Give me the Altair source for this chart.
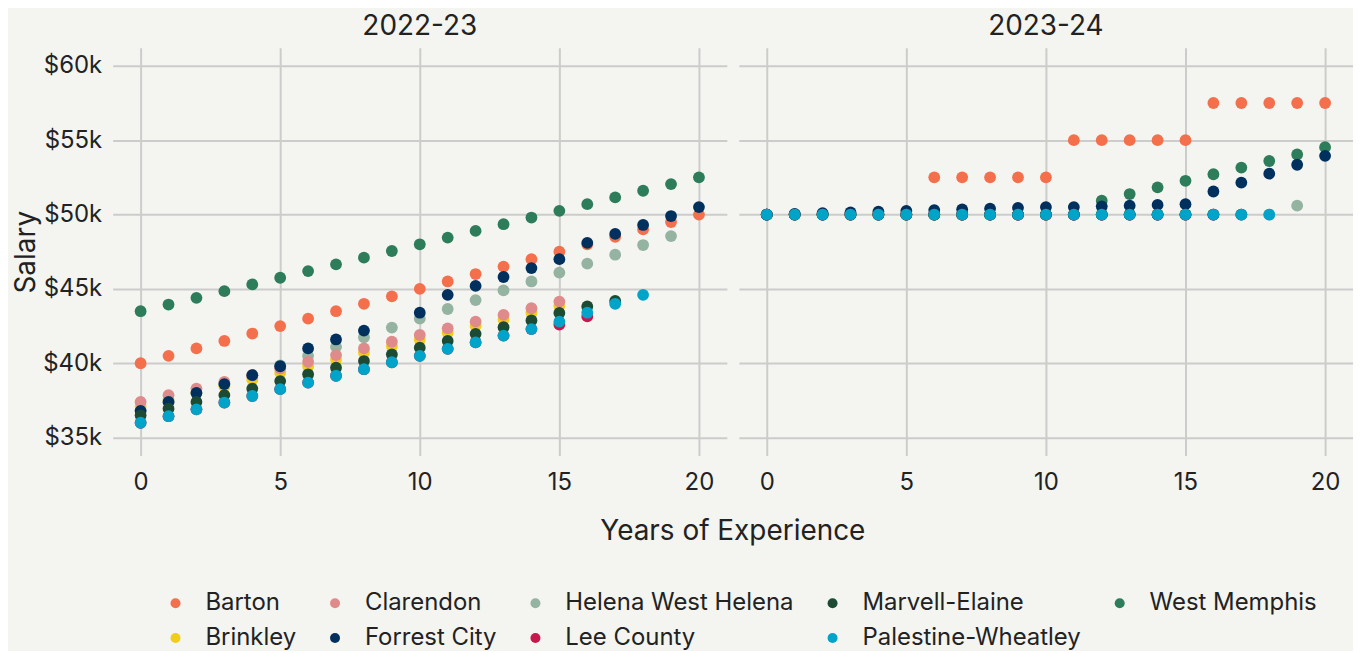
import altair as alt
import pandas as pd

years = list(range(21))

# Salaries in $k, index = years of experience (None = no value)
barton_2223 = [40.0, 40.5, 41.0, 41.5, 42.0, 42.5, 43.0, 43.5, 44.0, 44.5, 45.0, 45.5, 46.0, 46.5, 47.0, 47.5, 48.0, 48.5, 49.0, 49.5, 50.0]
brinkley_2223 = [37.1, 37.55, 38.0, 38.45, 38.9, 39.35, 39.8, 40.25, 40.7, 41.15, 41.6, 42.05, 42.5, 42.95, 43.4, 43.85]
clarendon_2223 = [37.4, 37.85, 38.3, 38.75, 39.2, 39.65, 40.1, 40.55, 41.0, 41.45, 41.9, 42.35, 42.8, 43.25, 43.7, 44.15]
forrest_2223 = [36.8, 37.4, 38.0, 38.6, 39.2, 39.8, 41.0, 41.6, 42.2, None, 43.4, 44.6, 45.2, 45.8, 46.4, 47.0, 48.1, 48.7, 49.3, 49.9, 50.5]
helena_2223 = [36.8, 37.4, 38.0, 38.6, 39.2, 39.85, 40.5, 41.1, 41.75, 42.4, 43.0, 43.65, 44.25, 44.9, 45.5, 46.1, 46.7, 47.3, 47.95, 48.55]
lee_2223 = [36.0, 36.44, 36.9, 37.36, 37.8, 38.26, 38.7, 39.16, 39.6, 40.07, 40.5, 40.97, 41.4, 41.86, 42.3, 42.6, 43.15]
marvell_2223 = [36.5, 36.95, 37.4, 37.86, 38.3, 38.8, 39.26, 39.7, 40.15, 40.6, 41.05, 41.5, 41.98, 42.43, 42.88, 43.38, 43.82, 44.2]
palestine_2223 = [36.0, 36.44, 36.9, 37.36, 37.8, 38.26, 38.7, 39.16, 39.6, 40.07, 40.5, 40.97, 41.4, 41.86, 42.3, 42.8, 43.4, 44.0, 44.6]
westmemphis_2223 = [43.5, 43.95, 44.4, 44.85, 45.3, 45.75, 46.2, 46.65, 47.1, 47.55, 48.0, 48.45, 48.9, 49.35, 49.8, 50.25, 50.7, 51.15, 51.6, 52.05, 52.5]

barton_2324 = [50.0, 50.0, 50.0, 50.0, 50.0, 50.0, 52.5, 52.5, 52.5, 52.5, 52.5, 55.0, 55.0, 55.0, 55.0, 55.0, 57.5, 57.5, 57.5, 57.5, 57.5]
brinkley_2324 = [50.0] * 16
clarendon_2324 = [50.0] * 16
forrest_2324 = [50.0, 50.05, 50.1, 50.15, 50.2, 50.25, 50.3, 50.35, 50.4, 50.45, 50.5, 50.5, 50.55, 50.6, 50.65, 50.7, 51.55, 52.15, 52.75, 53.35, 53.95]
helena_2324 = [50.0] * 19 + [50.6]
lee_2324 = [50.0] * 17
marvell_2324 = [50.0] * 18
palestine_2324 = [50.0] * 19
westmemphis_2324 = [50.0] * 12 + [50.93, 51.38, 51.83, 52.27, 52.71, 53.16, 53.6, 54.04, 54.53]

districts = ["Barton", "Brinkley", "Helena West Helena", "Clarendon", "West Memphis",
             "Forrest City", "Lee County", "Marvell-Elaine", "Palestine-Wheatley"]
series_2223 = [barton_2223, brinkley_2223, helena_2223, clarendon_2223, westmemphis_2223,
               forrest_2223, lee_2223, marvell_2223, palestine_2223]
series_2324 = [barton_2324, brinkley_2324, helena_2324, clarendon_2324, westmemphis_2324,
               forrest_2324, lee_2324, marvell_2324, palestine_2324]

legend_order = ["Barton", "Clarendon", "Helena West Helena", "Marvell-Elaine", "West Memphis",
                "Brinkley", "Forrest City", "Lee County", "Palestine-Wheatley"]
legend_colors = ["#f4704d", "#e08b8b", "#94b3a0", "#1d4a33", "#2e7d5a",
                 "#f2cc1b", "#00305e", "#c8174a", "#00a4c8"]

y_ticks = [35000, 40000, 45000, 50000, 55000, 60000]
x_ticks = [0, 5, 10, 15, 20]

rows = []
for rank, (name, s1, s2) in enumerate(zip(districts, series_2223, series_2324)):
    for period, s in (("2022-23", s1), ("2023-24", s2)):
        for yr, v in zip(years, s):
            if v is not None:
                rows.append({"district": name, "period": period, "years": yr,
                             "salary": v * 1000, "rank": rank})
df = pd.DataFrame(rows)

TXT = "#222222"
xscale = alt.Scale(domain=[-1, 21], nice=False, zero=False)
yscale = alt.Scale(domain=[33790, 61210], nice=False, zero=False)
color = alt.Color(
    "district:N",
    scale=alt.Scale(domain=legend_order, range=legend_colors),
    legend=alt.Legend(title=None, orient="none", legendX=51, legendY=545,
                      direction="horizontal", columns=5, symbolType="circle",
                      symbolSize=100, labelFontSize=24, labelOffset=18,
                      columnPadding=26, rowPadding=11, labelColor=TXT,
                      labelLimit=500, symbolStrokeWidth=0),
)


def panel(period, left):
    if left:
        xaxis = alt.Axis(values=x_ticks, title="Years of Experience", titleX=621.5, titleY=76,
                         titleBaseline="middle", titleAlign="center",
                         titleFontSize=28, titleFontWeight="normal", labelFontSize=24,
                         labelPadding=15, ticks=False, tickSize=0, domain=False)
        yaxis = alt.Axis(values=y_ticks, title="Salary", labelExpr="'$' + datum.value / 1000 + 'k'",
                         titleFontSize=28, titleFontWeight="normal", labelFontSize=24,
                         labelPadding=11, titlePadding=6, minExtent=66, maxExtent=66,
                         ticks=False, tickSize=0, domain=False)
    else:
        xaxis = alt.Axis(values=x_ticks, title=None, labelFontSize=24, labelPadding=15,
                         ticks=False, tickSize=0, domain=False)
        yaxis = alt.Axis(values=y_ticks, title=None, labels=False, ticks=False, tickSize=0,
                         domain=False)
    return alt.Chart(df).transform_filter(alt.datum.period == period).mark_circle(
        size=140, opacity=1
    ).encode(
        x=alt.X("years:Q", scale=xscale, axis=xaxis),
        y=alt.Y("salary:Q", scale=yscale, axis=yaxis),
        color=color,
        order=alt.Order("rank:Q"),
    ).properties(
        width=616, height=409,
        title=alt.TitleParams(period, fontSize=28, fontWeight="normal", offset=7,
                              color=TXT, anchor="middle"),
    )


chart = alt.hconcat(panel("2022-23", True), panel("2023-24", False), spacing=12, bounds="flush").resolve_scale(
    x="independent", y="independent", color="shared"
).properties(
    padding={"left": 5, "top": 4, "right": 0, "bottom": 0}
).configure(
    background="#f4f4f0", font="Inter"
).configure_view(stroke=None).configure_axis(
    gridColor="#cccccc", gridWidth=2, labelColor=TXT, titleColor=TXT
)

chart.save("out.html", embed_options={"renderer": "svg", "actions": False})
